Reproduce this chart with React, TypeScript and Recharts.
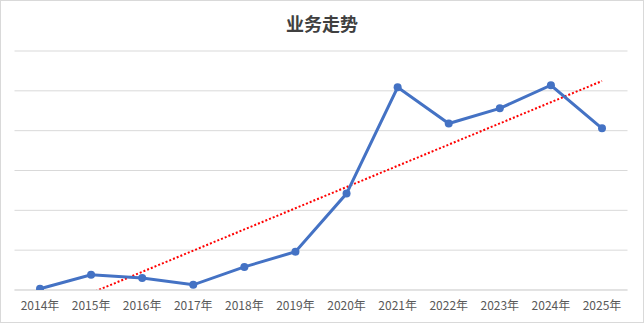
import { CartesianGrid, Line, LineChart, XAxis, YAxis } from "recharts";

const years = ["2014年", "2015年", "2016年", "2017年", "2018年", "2019年", "2020年", "2021年", "2022年", "2023年", "2024年", "2025年"];
const values = [0.3, 3.8, 3.0, 1.3, 5.8, 9.6, 24.2, 50.9, 41.8, 45.6, 51.4, 40.6];
const yTicks = [0, 10, 20, 30, 40, 50, 60];

// linear trendline (least squares over the index), like the spreadsheet's
const n = values.length;
const meanX = (n + 1) / 2;
const meanY = values.reduce((a, b) => a + b, 0) / n;
let sxy = 0;
let sxx = 0;
values.forEach((v, i) => {
  sxy += (i + 1 - meanX) * (v - meanY);
  sxx += (i + 1 - meanX) ** 2;
});
const slope = sxy / sxx;

const data = years.map((year, i) => ({
  year,
  value: values[i],
  trend: meanY + slope * (i + 1 - meanX),
}));

export default function App() {
  return (
    <div
      style={{
        position: "absolute",
        left: 0,
        top: 0,
        width: 644,
        height: 323,
        boxSizing: "border-box",
        border: "1px solid #d9d9d9",
        background: "#fff",
      }}
    >
      <div
        style={{
          position: "absolute",
          top: 9,
          left: 0,
          width: 642,
          textAlign: "center",
          fontFamily: "'Noto Sans CJK SC'",
          fontWeight: "bold",
          fontSize: 18,
          color: "#404040",
        }}
      >
        业务走势
      </div>
      <LineChart
        width={642}
        height={321}
        data={data}
        margin={{ top: 50, right: 15.5, left: 13.5, bottom: 3 }}
        style={{ position: "absolute", left: 0, top: 0 }}
      >
        <CartesianGrid vertical={false} stroke="#d9d9d9" />
        <XAxis
          dataKey="year"
          height={29}
          padding={{ left: 25.5, right: 25.5 }}
          tickLine={false}
          axisLine={{ stroke: "#d9d9d9" }}
          tickMargin={5}
          tick={{ fill: "#595959", fontSize: 12, fontFamily: "'Noto Sans CJK SC'" }}
          interval={0}
        />
        <YAxis hide domain={[0, 60]} ticks={yTicks} allowDataOverflow />
        <Line
          dataKey="trend"
          stroke="#ff0000"
          strokeWidth={2}
          strokeDasharray="2 2"
          dot={false}
          isAnimationActive={false}
        />
        <Line
          dataKey="value"
          stroke="#4472c4"
          strokeWidth={3}
          dot={{ r: 4, fill: "#4472c4", stroke: "#4472c4", strokeWidth: 0 }}
          isAnimationActive={false}
        />
      </LineChart>
    </div>
  );
}
